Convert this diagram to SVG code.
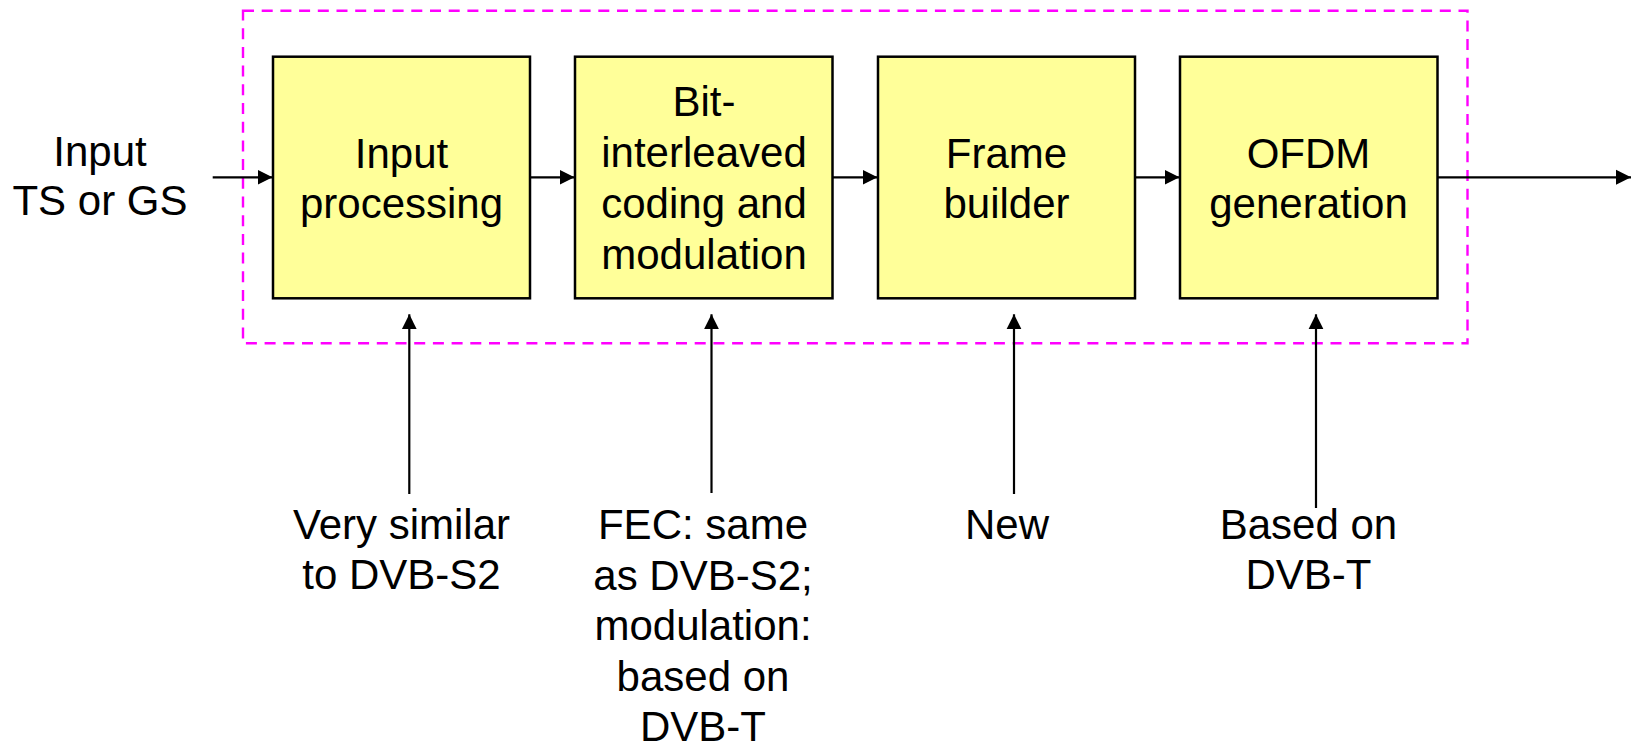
<svg xmlns="http://www.w3.org/2000/svg" width="1631" height="747" viewBox="0 0 1631 747">
<style>
text{font-family:"Liberation Sans",Arial,sans-serif;font-size:42px;fill:#000;text-anchor:middle}
.box{fill:#ffff99;stroke:#000;stroke-width:2.5}
.ln{stroke:#000;stroke-width:2.2;fill:none}
.dash{fill:none;stroke:#ff00ff;stroke-width:2.4;stroke-dasharray:11 7.7}
</style>
<defs>
<marker id="ah" markerUnits="userSpaceOnUse" markerWidth="16" markerHeight="16" viewBox="0 0 16 16" refX="15" refY="8" orient="auto">
<path d="M0,0.5 L15,8 L0,15.5 Z" fill="#000"/>
</marker>
</defs>
<rect class="dash" x="243" y="10.7" width="1224.5" height="332.5"/>
<g id="n-input">
<text x="100" y="166">Input</text>
<text x="100" y="215">TS or GS</text>
</g>
<g id="n-inproc">
<rect class="box" x="273" y="56.7" width="257" height="241.6"/>
<text x="401.5" y="168">Input</text>
<text x="401.5" y="218">processing</text>
</g>
<g id="n-bicm">
<rect class="box" x="575" y="56.7" width="257.5" height="241.6"/>
<text x="704" y="116">Bit-</text>
<text x="704" y="167">interleaved</text>
<text x="704" y="218">coding and</text>
<text x="704" y="269">modulation</text>
</g>
<g id="n-frame">
<rect class="box" x="878" y="56.7" width="257" height="241.6"/>
<text x="1006.5" y="168">Frame</text>
<text x="1006.5" y="218">builder</text>
</g>
<g id="n-ofdm">
<rect class="box" x="1180" y="56.7" width="257.5" height="241.6"/>
<text x="1308.5" y="168">OFDM</text>
<text x="1308.5" y="218">generation</text>
</g>
<g id="l-s2">
<text x="401.5" y="539">Very similar</text>
<text x="401.5" y="589">to DVB-S2</text>
</g>
<g id="l-fec">
<text x="703" y="539">FEC: same</text>
<text x="703" y="590">as DVB-S2;</text>
<text x="703" y="640">modulation:</text>
<text x="703" y="691">based on</text>
<text x="703" y="741">DVB-T</text>
</g>
<g id="l-new">
<text x="1007" y="539">New</text>
</g>
<g id="l-dvbt">
<text x="1308.5" y="539">Based on</text>
<text x="1308.5" y="589">DVB-T</text>
</g>
<g id="connectors">
<line class="ln" x1="212.7" y1="177.3" x2="272.5" y2="177.3" marker-end="url(#ah)"/>
<line class="ln" x1="530" y1="177.3" x2="574.5" y2="177.3" marker-end="url(#ah)"/>
<line class="ln" x1="832.5" y1="177.3" x2="877.5" y2="177.3" marker-end="url(#ah)"/>
<line class="ln" x1="1135" y1="177.3" x2="1179.5" y2="177.3" marker-end="url(#ah)"/>
<line class="ln" x1="1437.5" y1="177.3" x2="1631" y2="177.3" marker-end="url(#ah)"/>
<line class="ln" x1="409.3" y1="494" x2="409.3" y2="314.3" marker-end="url(#ah)"/>
<line class="ln" x1="711.5" y1="493" x2="711.5" y2="314.3" marker-end="url(#ah)"/>
<line class="ln" x1="1014" y1="494" x2="1014" y2="314.3" marker-end="url(#ah)"/>
<line class="ln" x1="1316" y1="508" x2="1316" y2="314.3" marker-end="url(#ah)"/>
</g>
</svg>
